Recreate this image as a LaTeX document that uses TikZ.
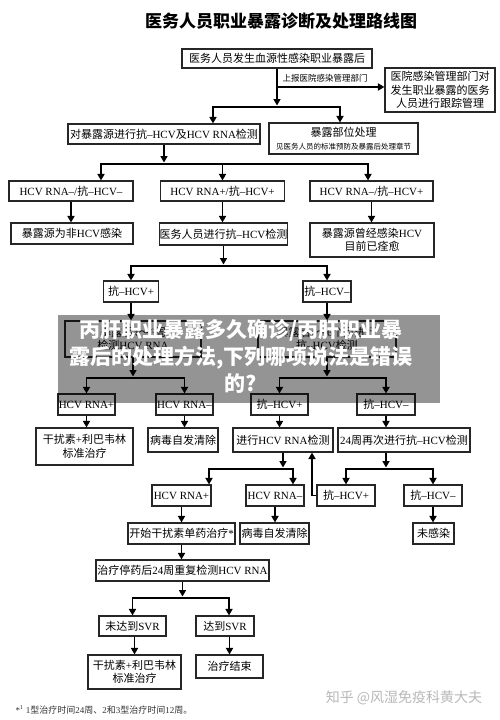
\documentclass[tikz,border=0pt]{standalone}
\usepackage{fontspec}
\setmainfont{Liberation Serif}
\newfontfamily\cjk{Noto Sans CJK SC}
\usetikzlibrary{arrows.meta}
\XeTeXinterchartokenstate=1
\ifdefined\newXeTeXintercharclass \newXeTeXintercharclass\cjkcls \else \chardef\cjkcls=250 \fi
\makeatletter
\count@="3000
\loop\XeTeXcharclass\count@=\cjkcls\advance\count@\@ne\ifnum\count@<"3040 \repeat
\count@="4E00
\loop\XeTeXcharclass\count@=\cjkcls\advance\count@\@ne\ifnum\count@<"A000 \repeat
\count@="FF00
\loop\XeTeXcharclass\count@=\cjkcls\advance\count@\@ne\ifnum\count@<"FFF0 \repeat
\makeatother
\def\mycjk{\cjk}\def\mylat{\rmfamily}
\XeTeXinterchartoks 0 \cjkcls = {\mycjk}
\XeTeXinterchartoks 4095 \cjkcls = {\mycjk}
\XeTeXinterchartoks \cjkcls 0 = {\mylat}
\begin{document}
\begin{tikzpicture}[x=1pt,y=-1pt,
  bx/.style 2 args={draw=black!85,line width=1.1pt,inner sep=0pt,minimum width=#1pt,minimum height=#2pt,align=center,font=\fontsize{11}{13.5}\selectfont},
  ar/.style={-{Triangle[length=6.5pt,width=7pt]},line width=1.6pt},
  ln/.style={line width=1.6pt}]
\useasboundingbox[fill=white] (0,0) rectangle (500,720);
\node (title) at (281,21) [font=\cjk\bfseries\fontsize{17}{20}\selectfont] {医务人员职业暴露诊断及处理路线图};
% top
\node[bx={190}{19}] (b1) at (277,58.5) {医务人员发生血源性感染职业暴露后};
\node[bx={110}{44}] (b2) at (440,90) {医院感染管理部门对\\发生职业暴露的医务\\人员进行跟踪管理};
\coordinate (rp) at (277,87);
\draw[ar] (rp) -- (rp -| b2.west);
\node[font=\fontsize{8.5}{9}\selectfont] (rpl) at (325,78) {上报医院感染管理部门};
\coordinate (j1) at (277,107);
\coordinate (j1t) at (277,105.5);
\draw[ar] (b1.south) -- (j1t);
\node[bx={192}{20}] (b3) at (164,134) {对暴露源进行抗–HCV及HCV RNA检测};
\node[bx={149}{31}] (b4) at (343.5,138.5) {暴露部位处理\\[-1pt]{\fontsize{7.5}{9}\selectfont 见医务人员的标准预防及暴露后处理章节}};
\draw[ar] (j1) -| ([xshift=49pt]b3.north);
\draw[ar] (j1) -| ([xshift=-3.5pt]b4.north);
% row 3
\coordinate (j2) at (164,164);
\coordinate (j2t) at (164,162.5);
\draw[ar] (b3.south) -- (j2t);
\node[bx={124}{20}] (r3a) at (71,191) {HCV RNA–/抗–HCV–};
\node[bx={124}{20}] (r3b) at (222.5,191) {HCV RNA+/抗–HCV+};
\node[bx={123}{20}] (r3c) at (371.5,191) {HCV RNA–/抗–HCV+};
\draw[ar] (j2) -| ([xshift=30pt]r3a.north);
\draw[ar] (j2) -| ([xshift=-3.5pt]r3c.north);
\draw[ar] (j2 -| r3b.north) -- (r3b.north);
% row 4
\node[bx={122}{21}] (r4a) at (72,233.5) {暴露源为非HCV感染};
\node[bx={123}{22}] (r4b) at (223.5,234) {医务人员进行抗–HCV检测};
\node[bx={124}{34}] (r4c) at (372,240) {暴露源曾经感染HCV\\目前已痊愈};
\draw[ar] (r3a.south) -- (r3a.south |- r4a.north);
\draw[ar] (r3b.south) -- (r3b.south |- r4b.north);
\draw[ar] (r3c.south) -- (r3c.south |- r4c.north);
% row 5
\coordinate (j3) at (223.5,266);
\coordinate (j3t) at (223.5,264.5);
\draw[ar] (r4b.south) -- (j3t);
\node[bx={55}{21}] (r5a) at (131,291.5) {抗–HCV+};
\node[bx={48}{21}] (r5b) at (327,291.5) {抗–HCV–};
\draw[ar] (j3) -| (r5a.north);
\draw[ar] (j3) -| (r5b.north);
% row 6
\node[bx={136}{36}] (r6a) at (133,339) {暴露后4～6周\\检测HCV RNA};
\node[bx={138}{36}] (r6b) at (327,339) {暴露后4～6个月进行\\抗–HCV检测};
\draw[ar] (r5a.south) -- (r5a.south |- r6a.north);
\draw[ar] (r5b.south) -- (r5b.south |- r6b.north);
% row 7
\coordinate (j4) at (133,378);
\coordinate (j4t) at (133,376.5);
\draw[ar] (r6a.south) -- (j4t);
\coordinate (j5) at (327,378);
\coordinate (j5t) at (327,376.5);
\draw[ar] (r6b.south) -- (j5t);
\node[bx={57}{21}] (r7a) at (86.5,404.5) {HCV RNA+};
\node[bx={57}{21}] (r7b) at (184.5,404.5) {HCV RNA–};
\node[bx={57}{21}] (r7c) at (279.5,404.5) {抗–HCV+};
\node[bx={58}{21}] (r7d) at (386,404.5) {抗–HCV–};
\draw[ar] (j4) -| (r7a.north);
\draw[ar] (j4) -| (r7b.north);
\draw[ar] (j5) -| (r7c.north);
\draw[ar] (j5) -| (r7d.north);
% row 8
\node[bx={97}{37}] (r8a) at (84.5,446.5) {干扰素+利巴韦林\\标准治疗};
\node[bx={70}{24}] (r8b) at (183,440) {病毒自发清除};
\node[bx={100}{24}] (r8c) at (283,440) {进行HCV RNA检测};
\node[bx={132}{24}] (r8d) at (404,440) {24周再次进行抗–HCV检测};
\draw[ar] (r7a.south) -- (r7a.south |- r8a.north);
\draw[ar] (r7b.south) -- (r7b.south |- r8b.north);
\draw[ar] (r7c.south) -- (r7c.south |- r8c.north);
\draw[ar] (r7d.south) -- (r7d.south |- r8d.north);
% row 9
\coordinate (j6) at (283,469);
\coordinate (j6t) at (283,467.5);
\draw[ar] (r8c.south) -- (j6t);
\coordinate (j7) at (386,469);
\coordinate (j7t) at (386,467.5);
\draw[ar] ([xshift=-18pt]r8d.south) -- (j7t);
\node[bx={59}{21}] (r9a) at (181.5,495.5) {HCV RNA+};
\node[bx={58}{21}] (r9b) at (275,495.5) {HCV RNA–};
\node[bx={58}{21}] (r9c) at (346,495.5) {抗–HCV+};
\node[bx={58}{21}] (r9d) at (433,495.5) {抗–HCV–};
\draw[ar] (j6) -| ([xshift=27.5pt]r9a.north);
\draw[ar] (j6) -| ([xshift=18pt]r9b.north);
\draw[ar] (j7) -| (r9c.north);
\draw[ar] (j7) -| (r9d.north);
\draw[ar] (r9c.west) -| ([xshift=29pt]r8c.south);
% row 10
\node[bx={107}{21}] (r10a) at (181.5,533.5) {开始干扰素单药治疗*};
\node[bx={69}{21}] (r10b) at (274.5,533.5) {病毒自发清除};
\node[bx={41}{21}] (r10c) at (433.5,533.5) {未感染};
\draw[ar] (r9a.south) -- (r9a.south |- r10a.north);
\draw[ar] (r9b.south) -- (r9b.south |- r10b.north);
\draw[ar] (r9d.south) -- (r9d.south |- r10c.north);
% row 11
\node[bx={173}{21}] (r11) at (182.5,570.5) {治疗停药后24周重复检测HCV RNA};
\draw[ar] (r10a.south) -- (r10a.south |- r11.north);
\coordinate (j8) at (182.5,598);
\coordinate (j8t) at (182.5,596.5);
\draw[ar] (r11.south) -- (j8t);
% row 12
\node[bx={67}{20}] (r12a) at (132.5,626) {未达到SVR};
\node[bx={58}{20}] (r12b) at (225,626) {达到SVR};
\draw[ar] (j8) -| (r12a.north);
\draw[ar] (j8) -| ([xshift=4pt]r12b.north);
% row 13
\node[bx={93}{34}] (r13a) at (134.5,672) {干扰素+利巴韦林\\标准治疗};
\node[bx={67}{23}] (r13b) at (229.5,666.5) {治疗结束};
\draw[ar] (r12a.south -| r13a.north) -- (r13a.north);
\draw[ar] (r12b.south -| r13b.north) -- (r13b.north);
% footnote and watermark
\node[anchor=west,font=\fontsize{9}{10}\selectfont,text=black!80] (fn) at (12,710) {*\textsuperscript{1} 1型治疗时间24周、2和3型治疗时间12周。};
\node[font=\def\mylat{}\cjk\fontsize{14}{16}\selectfont,text=black!28] (wm) at (404,698) {知乎 @风湿免疫科黄大夫};
% overlay
\node[fill=black,fill opacity=0.42,minimum width=382pt,minimum height=88pt,inner sep=0pt] (ov) at (249,359) {};
\node[font=\def\mylat{}\cjk\bfseries\fontsize{21}{27}\selectfont,text=white,align=center] (ovt) at (241,356) {丙肝职业暴露多久确诊/丙肝职业暴\\露后的处理方法,下列哪项说法是错误\\的?};
\end{tikzpicture}
\end{document}
